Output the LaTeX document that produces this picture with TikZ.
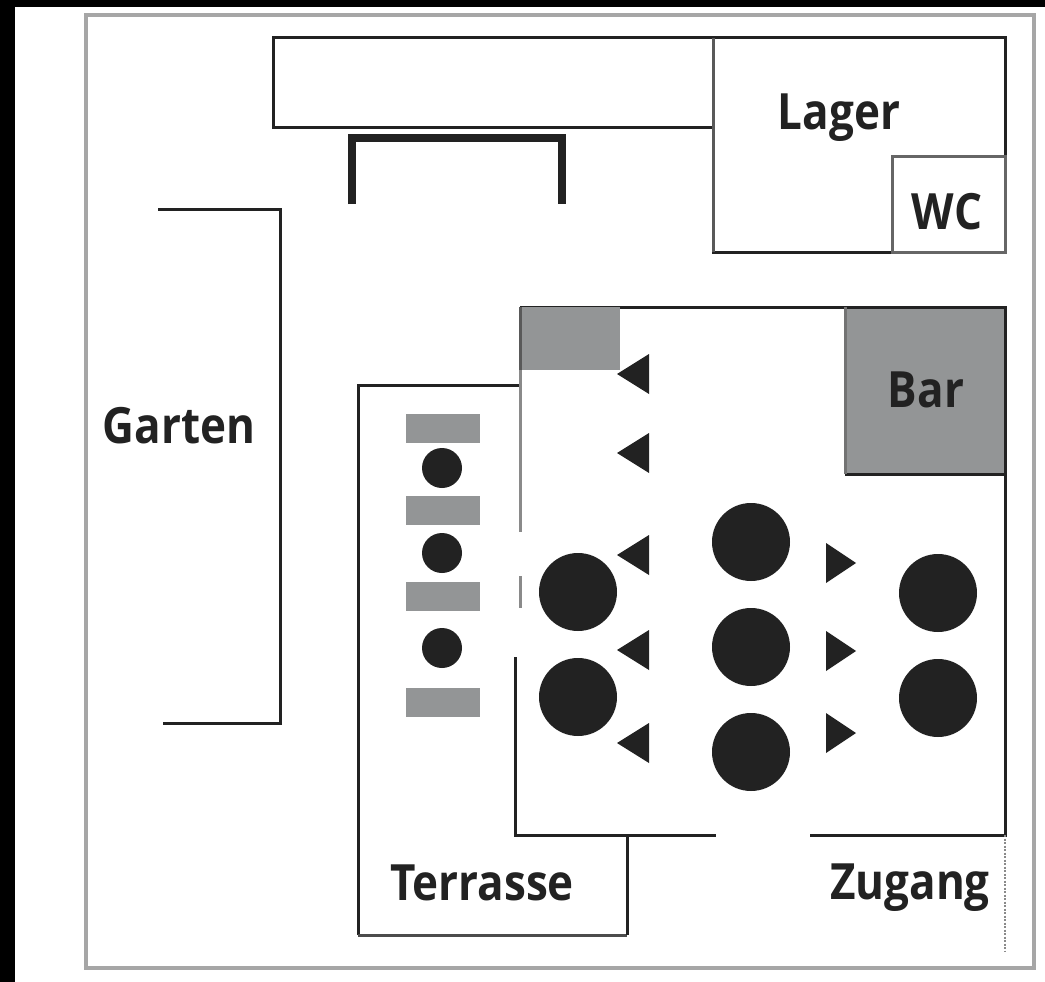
\documentclass[tikz,border=0pt]{standalone}
\usepackage{fontspec}
\newfontfamily\lblfont{Open Sans}[FakeStretch=0.88]
\definecolor{ink}{HTML}{222222}
\definecolor{wallgray}{HTML}{8A8A8A}
\definecolor{framegray}{HTML}{A6A6A6}
\definecolor{boxgray}{HTML}{939596}
\begin{document}
\begin{tikzpicture}[x=1pt,y=-1pt,
  lbl/.style={font=\lblfont\bfseries\fontsize{50}{50}\selectfont, inner sep=0pt, anchor=base, text=ink},
  wall/.style={draw=ink, line width=3pt},
  gwall/.style={draw=wallgray, line width=3pt},
  frame/.style={draw=framegray, line width=3.5pt},
  tbl/.style={fill=ink},
  bench/.style={fill=boxgray},
  seatl/.style={fill=ink},
]
\fill[black] (0,0) rectangle (1045,982);
\fill[white] (15,7) rectangle (1045,982);
\useasboundingbox (0,0) rectangle (1045,982);

% outer frame
\draw[frame] (86,15) rectangle (1034,968);

% top long block
\draw[wall] (273,38) rectangle (713,127);
% Lager and WC
\draw[wall] (713,38) rectangle (1005,252);
\draw[draw=black!60, line width=3pt] (892,156) rectangle (1005,252);
\draw[gwall, draw=black!65] (713,38) -- (713,252);

% thick bracket
\draw[ink, line width=8.5pt] (352,204) -- (352,138) -- (562,138) -- (562,204);

% Garten bracket
\draw[wall] (158,209) -- (280,209) -- (280,723) -- (163,723);

% Terrasse outline
\draw[wall] (520,385) -- (358,385) -- (358,935);
\draw[draw=black!70, line width=3pt] (358,935) -- (627,935);
\draw[wall] (627,935) -- (627,835);

% main room
\draw[wall] (520,307) -- (845,307);
\draw[gwall] (520,307) -- (520,532);
\draw[gwall] (520,576) -- (520,608);
\draw[wall] (515,657) -- (515,835) -- (716,835);
\draw[wall] (810,835) -- (1005,835) -- (1005,473);
\draw[draw=wallgray, line width=2.5pt, dash pattern=on 2pt off 1.5pt] (1005,835) -- (1005,952);

% small gray box
\fill[boxgray] (520,307) rectangle (620,370);
\draw[draw=black!65, line width=3pt] (520,307) -- (520,370);

% Bar
\fill[boxgray] (845,307) rectangle (1005,474);
\draw[wall] (845,307) -- (1005,307) -- (1005,474) -- (845,474);
\draw[draw=black!55, line width=3pt] (845,307) -- (845,474);

% Terrasse benches and tables
\foreach \y in {414,496,582,688} \fill[bench] (406,\y) rectangle (480,\y+29);
\foreach \y in {468,553,648} \fill[tbl] (442,\y) circle (20);

% big tables
\foreach \p in {(578,592),(578,697),(751,542),(751,647),(751,752),(938,593),(938,698)}
  \fill[tbl] \p circle (39);

% seats (left-pointing)
\foreach \y in {374,453,555,650,743}
  \fill[seatl] (617,\y) -- (649,\y-20) -- (649,\y+20) -- cycle;
% seats (right-pointing)
\foreach \y in {563,651,733}
  \fill[seatl] (856,\y) -- (826,\y-20) -- (826,\y+20) -- cycle;

% labels
\node[lbl] (lager) at (839,129) {Lager};
\node[lbl] (wc) at (947,229) {WC};
\node[lbl] (garten) at (179,443) {Garten};
\node[lbl] (bar) at (926,407) {Bar};
\node[lbl] (terrasse) at (482,900) {Terrasse};
\node[lbl] (zugang) at (910,899) {Zugang};
\end{tikzpicture}
\end{document}
